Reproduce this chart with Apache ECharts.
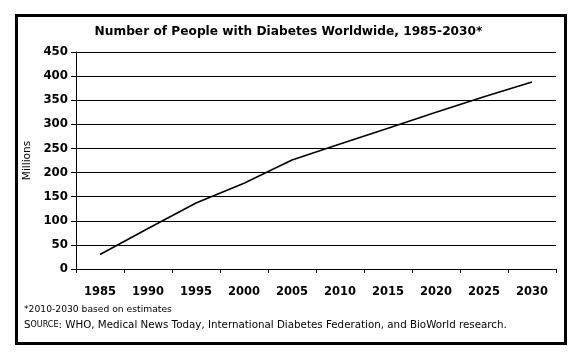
<!DOCTYPE html>
<html><head><meta charset="utf-8">
<script src="https://cdn.jsdelivr.net/npm/echarts@6/dist/echarts.min.js"></script>
<style>html,body{margin:0;padding:0;background:#fff}#c{width:577px;height:359px}</style>
</head><body><div id="c"></div>
<script>
var years = ['1985','1990','1995','2000','2005','2010','2015','2020','2025','2030'];
var millions = [30, 84, 137, 178, 226, 259, 292, 325, 357, 388];
var yTicks = {min: 0, max: 450, interval: 50};
var titleText = 'Number of People with Diabetes Worldwide, 1985-2030*';
var yName = 'Millions';
var note1 = '*2010-2030 based on estimates';
var note2 = 'WHO, Medical News Today, International Diabetes Federation, and BioWorld research.';

var FONT = 'DejaVu Sans';
var chart = echarts.init(document.getElementById('c'), null, {renderer: 'canvas'});
chart.setOption({
  animation: false,
  backgroundColor: '#fff',
  title: {
    text: titleText, left: 'center', top: 21,
    textStyle: {fontFamily: FONT, fontSize: 12.2, fontWeight: 'bold', color: '#000'}
  },
  grid: {left: 76, right: 21, top: 52, bottom: 90, containLabel: false},
  xAxis: {
    type: 'category', data: years, boundaryGap: true,
    axisLine: {lineStyle: {color: '#000', width: 1}},
    axisTick: {show: true, interval: 0, length: 4, lineStyle: {color: '#000'}},
    axisLabel: {interval: 0, margin: 17, fontFamily: FONT, fontSize: 11.5, fontWeight: 'bold', color: '#000'},
    splitLine: {show: false}
  },
  yAxis: {
    type: 'value', min: yTicks.min, max: yTicks.max, interval: yTicks.interval,
    name: yName, nameLocation: 'middle', nameGap: 41, nameRotate: 90,
    nameTextStyle: {fontFamily: FONT, fontSize: 10.5, color: '#000'},
    axisLine: {show: true, lineStyle: {color: '#000', width: 1}},
    axisTick: {show: true, length: 5, lineStyle: {color: '#000'}},
    axisLabel: {margin: 8, fontFamily: FONT, fontSize: 11.8, fontWeight: 'bold', color: '#000'},
    splitLine: {show: true, lineStyle: {color: '#000', width: 1}}
  },
  series: [{
    type: 'line', data: millions, symbol: 'none', smooth: false,
    lineStyle: {color: '#000', width: 1.6}
  }],
  graphic: [
    {type: 'rect', shape: {x: 16.5, y: 15.5, width: 549, height: 328},
     style: {fill: 'none', stroke: '#000', lineWidth: 3}, z: 100},
    {type: 'text', left: 24, top: 305,
     style: {text: note1, fontFamily: FONT, fontSize: 9.2, fill: '#000'}},
    {type: 'text', left: 24, top: 320,
     style: {
       text: '{a|S}{b|OURCE}{c|: ' + note2 + '}',
       rich: {
         a: {fontFamily: FONT, fontSize: 10.3, fill: '#000'},
         b: {fontFamily: FONT, fontSize: 8, fill: '#000'},
         c: {fontFamily: FONT, fontSize: 10.3, fill: '#000'}
       }
     }}
  ]
});
</script></body></html>
